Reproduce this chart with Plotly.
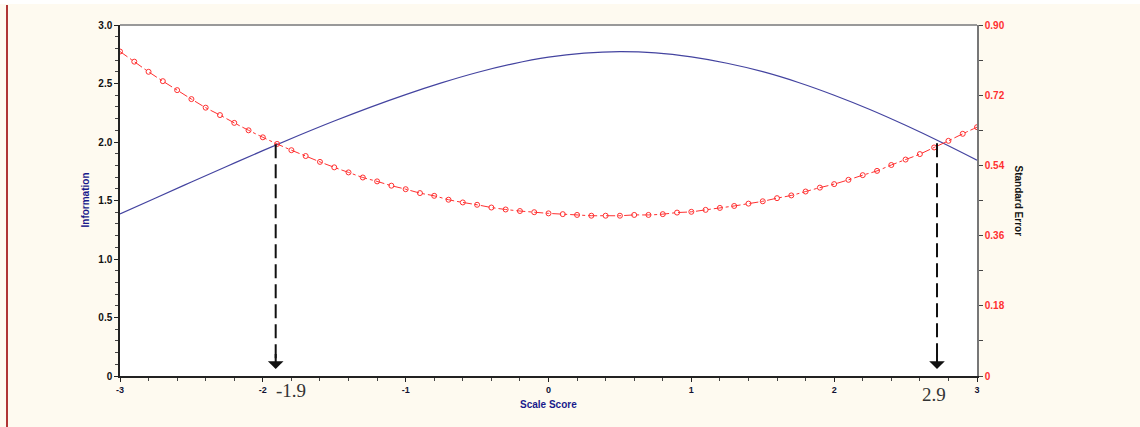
import plotly.graph_objects as go

# ---------------- data ----------------
info_x = [-3.0, -2.75, -2.5, -2.25, -2.0, -1.75, -1.5, -1.25, -1.0, -0.75, -0.5, -0.25,
          0.0, 0.25, 0.5, 0.75, 1.0, 1.25, 1.5, 1.75, 2.0, 2.25, 2.5, 2.75, 3.0]
info_y = [1.385, 1.522, 1.658, 1.793, 1.926, 2.055, 2.179, 2.296, 2.405, 2.505, 2.594, 2.668,
          2.725, 2.760, 2.773, 2.762, 2.727, 2.673, 2.601, 2.509, 2.400, 2.278, 2.143, 1.998, 1.845]

se_x = [round(-3 + 0.1 * i, 1) for i in range(61)]
se_y = [0.832, 0.806, 0.780, 0.756, 0.733, 0.710, 0.688, 0.669, 0.649, 0.630,
        0.612, 0.595, 0.579, 0.564, 0.549, 0.535, 0.522, 0.509, 0.499, 0.488,
        0.479, 0.469, 0.462, 0.452, 0.445, 0.439, 0.432, 0.427, 0.423, 0.420,
        0.417, 0.415, 0.413, 0.411, 0.411, 0.411, 0.413, 0.413, 0.415, 0.419,
        0.421, 0.426, 0.431, 0.436, 0.442, 0.448, 0.456, 0.463, 0.473, 0.483,
        0.492, 0.503, 0.515, 0.526, 0.541, 0.555, 0.569, 0.586, 0.603, 0.621,
        0.638]

x_ticks = [-3, -2, -1, 0, 1, 2, 3]
x_tick_labels = ["-3", "-2", "-1", "0", "1", "2", "3"]
info_ticks = [0, 0.5, 1.0, 1.5, 2.0, 2.5, 3.0]
info_tick_labels = ["0", "0.5", "1.0", "1.5", "2.0", "2.5", "3.0"]
se_ticks = [0, 0.18, 0.36, 0.54, 0.72, 0.90]
se_tick_labels = ["0", "0.18", "0.36", "0.54", "0.72", "0.90"]

cross_x = [-1.91, 2.72]
cross_info = [1.98, 1.99]
cross_labels = ["-1.9", "2.9"]

# ---------------- style ----------------
CREAM = "#FEFAF0"
NAVY = "#1A1A8C"
BLUE_LINE = "#4444A0"
RED = "#FF3030"
AXFONT = "Liberation Sans, Arial, sans-serif"
label_dx = [0.11, -0.02]
label_shift = [-2, -6]

fig = go.Figure()

fig.add_trace(go.Scatter(
    x=info_x, y=info_y, mode="lines", line=dict(color=BLUE_LINE, width=1.2, shape="spline"),
    name="Information", yaxis="y", showlegend=False))

fig.add_trace(go.Scatter(
    x=se_x, y=se_y, mode="lines+markers",
    line=dict(color=RED, width=1, dash="dashdot", shape="spline"),
    marker=dict(symbol="circle-open", size=5, color=RED, line=dict(width=1)),
    name="Standard Error", yaxis="y2", showlegend=False))

shapes = []
annotations = []
for cx, ci, lab, dx, sh in zip(cross_x, cross_info, cross_labels, label_dx, label_shift):
    shapes.append(dict(type="line", xref="x", yref="y", x0=cx, x1=cx, y0=ci, y1=0.12,
                       line=dict(color="#111111", width=2, dash="14px,6px")))
    annotations.append(dict(x=cx, y=0.06, xref="x", yref="y", ax=cx, ay=0.2,
                            axref="x", ayref="y", text="", showarrow=True,
                            arrowhead=1, arrowsize=1.3, arrowwidth=2, arrowcolor="#111111"))
    annotations.append(dict(x=cx + dx, y=0, xref="x", yref="y", yshift=sh,
                            text=lab, showarrow=False, yanchor="top", xanchor="center",
                            font=dict(family="Liberation Serif, Times New Roman, serif",
                                      size=19, color="#333333")))

# decorations: top white strip, gray top border
shapes.append(dict(type="rect", xref="paper", yref="paper", x0=-0.2, x1=1.2,
                   y0=1 + 21 / 351, y1=1.2, fillcolor="white", line=dict(width=0),
                   layer="above"))
shapes.append(dict(type="line", xref="x", yref="paper", x0=-3, x1=3, y0=1, y1=1,
                   line=dict(color="#999999", width=2)))

annotations.append(dict(text="<b>Information</b>", xref="paper", yref="paper",
                        x=-35 / 857, y=0.5, xanchor="center", yanchor="middle",
                        textangle=-90, showarrow=False,
                        font=dict(family=AXFONT, size=10, color=NAVY)))
annotations.append(dict(text="<b>Standard Error</b>", xref="paper", yref="paper",
                        x=1 + 41 / 857, y=0.5, xanchor="center", yanchor="middle",
                        textangle=90, showarrow=False,
                        font=dict(family=AXFONT, size=10, color="#111111")))
annotations.append(dict(text="<b>Scale Score</b>", xref="paper", yref="paper",
                        x=0.5, y=-28 / 351, xanchor="center", yanchor="middle",
                        showarrow=False, font=dict(family=AXFONT, size=10, color=NAVY)))

fig.update_layout(
    width=1140, height=427,
    margin=dict(l=120, r=163, t=25, b=51, autoexpand=False),
    paper_bgcolor=CREAM, plot_bgcolor="white",
    showlegend=False,
    shapes=shapes, annotations=annotations,
    xaxis=dict(range=[-3, 3], tickvals=x_ticks, ticktext=x_tick_labels, automargin=False,
               showgrid=False, zeroline=False, showline=True, linecolor="#222222", linewidth=1.5,
               ticks="outside", ticklen=4, tickcolor="#222222",
               minor=dict(dtick=0.2, ticks="outside", ticklen=3, tickcolor="#444444"),
               tickfont=dict(family=AXFONT, size=9, color="#111133", weight="bold")),
    yaxis=dict(range=[0, 3], tickvals=info_ticks, ticktext=info_tick_labels, automargin=False,
               showgrid=False, zeroline=False, showline=True, linecolor="#222222", linewidth=1.5,
               ticks="outside", ticklen=4, tickcolor="#222222",
               minor=dict(dtick=0.1, ticks="outside", ticklen=3, tickcolor="#444444"),
               tickfont=dict(family=AXFONT, size=10, color="#111111", weight="bold")),
    yaxis2=dict(range=[0, 0.9], overlaying="y", side="right", automargin=False,
                tickvals=se_ticks, ticktext=se_tick_labels,
                showgrid=False, zeroline=False, showline=True, linecolor="#777777", linewidth=1.5,
                ticks="outside", ticklen=4, tickcolor="#444444",
                minor=dict(dtick=0.09, ticks="outside", ticklen=4, tickcolor="#444444"),
                tickfont=dict(family=AXFONT, size=10, color=RED, weight="bold")),
)

# left red rule of the page
fig.add_shape(type="line", xref="paper", yref="paper",
              x0=-113 / 857, x1=-113 / 857, y0=-51 / 351, y1=1 + 20 / 351,
              line=dict(color="#B03535", width=2))

fig.write_html("out.html", config={"displayModeBar": False},
               post_script="document.body.style.margin='0';")
